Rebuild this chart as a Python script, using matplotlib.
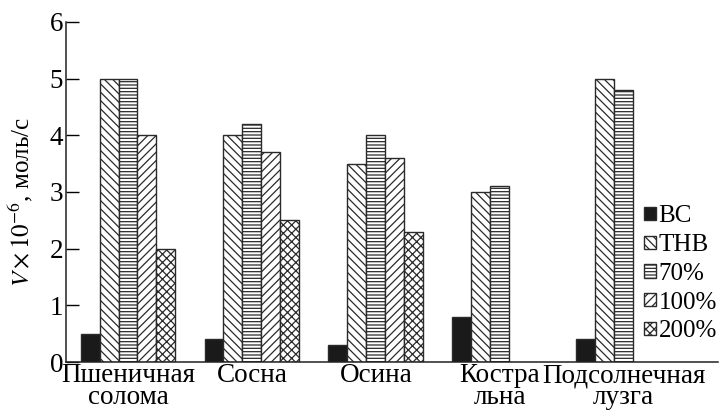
import numpy as np
import matplotlib
matplotlib.use("Agg")
import matplotlib.pyplot as plt

plt.rcParams["font.family"] = ["Liberation Serif", "DejaVu Serif"]
plt.rcParams["mathtext.fontset"] = "stix"
plt.rcParams["hatch.linewidth"] = 0.9

categories = ["Пшеничная\nсолома", "Сосна", "Осина", "Костра\nльна", "Подсолнечная\nлузга"]
series_names = ["BC", "THB", "70%", "100%", "200%"]
bc = [0.5, 0.4, 0.3, 0.8, 0.4]
thb = [5.0, 4.0, 3.5, 3.0, 5.0]
p70 = [5.0, 4.2, 4.0, 3.1, 4.8]
p100 = [4.0, 3.7, 3.6, np.nan, np.nan]
p200 = [2.0, 2.5, 2.3, np.nan, np.nan]
yticks = [0, 1, 2, 3, 4, 5, 6]

series = [bc, thb, p70, p100, p200]
fills = ["#1a1a1a", "white", "white", "white", "white"]
hatches = [None, "\\\\\\\\", "-----", "////", "xxxx"]

fig = plt.figure(figsize=(7.2, 4.15), dpi=100)
ax = fig.add_axes([0.0917, 0.1277, 0.9053, 0.8193])

x = np.arange(len(categories))
width = 0.153
edge = "#2a2a2a"
for i, (vals, fc, h, name) in enumerate(zip(series, fills, hatches, series_names)):
    offs = (i - 2) * width
    ax.bar(x + offs, vals, width, color=fc, edgecolor=edge, hatch=h,
           linewidth=1.0, label=name)

ax.set_xlim(-0.5, 4.76)
ax.set_ylim(0, 6)
ax.set_yticks(yticks)
ax.set_xticks(x)
ax.set_xticklabels(categories, fontsize=19.5, linespacing=0.8)
ax.tick_params(axis="x", length=0, pad=1)
ax.tick_params(axis="y", direction="in", length=9, width=1.0, labelsize=19.5, pad=2)
for s in ["top", "right"]:
    ax.spines[s].set_visible(False)
for s in ["left", "bottom"]:
    ax.spines[s].set_linewidth(1.1)
    ax.spines[s].set_color("#222222")

ax.set_ylabel(r"$V\times10^{-6}$, моль/с", fontsize=18)
ax.yaxis.set_label_coords(-0.048, 0.47)

leg = ax.legend(loc="upper left", bbox_to_anchor=(0.895, 0.505),
                bbox_transform=fig.transFigure, frameon=False,
                fontsize=18, handlelength=0.45, handleheight=0.45,
                handletextpad=0.12, labelspacing=0.27, borderaxespad=0,
                borderpad=0)

fig.savefig("out.png", dpi=100)
